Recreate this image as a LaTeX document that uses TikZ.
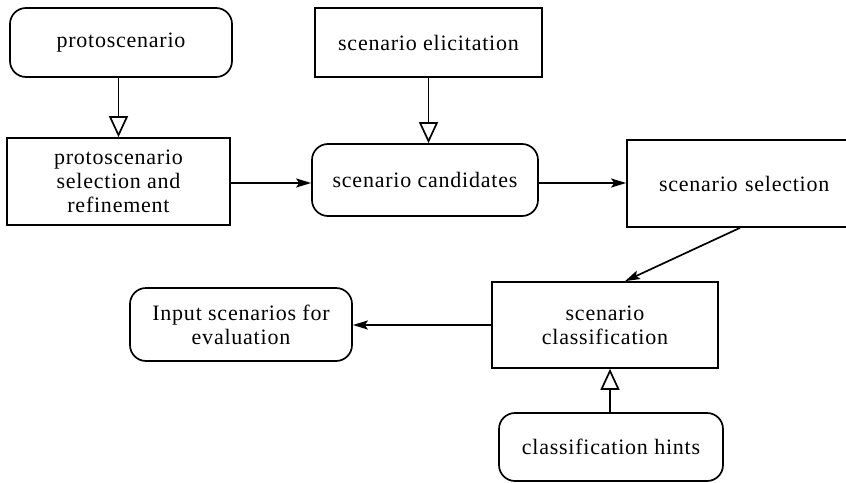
\documentclass[tikz,border=0pt]{standalone}
\usepackage{fontspec}
\setmainfont{Liberation Serif}[LetterSpace=3.5]
\usetikzlibrary{arrows.meta,calc}

\tikzset{
  box/.style={draw=black, line width=1.7pt, align=center, inner sep=0pt,
    font=\fontsize{22}{24}\selectfont},
  roundbox/.style={box, rounded corners=16pt},
  plainbox/.style={box},
  openflow/.style={line width=1.7pt, -{Triangle[open, length=21pt, width=19pt, line width=1.7pt]}},
  dataflow/.style={line width=1.7pt, -{Stealth[length=15pt, width=9pt, inset=3pt]}},
}

\begin{document}
\begin{tikzpicture}[x=1pt, y=-1pt]
  \useasboundingbox (0,0) rectangle (846,482);

  % top row
  \node[roundbox, minimum width=222pt, minimum height=69pt] (proto) at (121,42.5) {protoscenario};
  \node[plainbox, minimum width=227pt, minimum height=69pt] (elicit) at (428.5,42.5) {scenario elicitation};

  % middle row
  \node[plainbox, minimum width=223pt, minimum height=87pt] (protosel) at (118.5,181.5)
    {protoscenario\\selection and\\refinement};
  \node[roundbox, minimum width=226pt, minimum height=72pt] (cand) at (425,180) {scenario candidates};
  \node[plainbox, minimum width=230pt, minimum height=87pt, text width=200pt, align=left] (sel) at (742,183.5)
    {\hspace*{17pt}scenario selection};

  % lower rows
  \node[plainbox, minimum width=226pt, minimum height=86pt] (classif) at (605,325)
    {scenario\\classification};
  \node[roundbox, minimum width=222pt, minimum height=73pt] (input) at (241,324.5)
    {Input scenarios for\\evaluation};
  \node[roundbox, minimum width=224pt, minimum height=68pt] (hints) at (611,447) {classification hints};

  % connectors
  \draw[openflow] (proto.south -| protosel.north) -- (protosel.north);
  \draw[openflow] (elicit.south) -- (elicit.south |- cand.north);
  \draw[dataflow] (protosel.east |- 0,183) -- (cand.west |- 0,183);
  \draw[dataflow] (cand.east |- 0,183) -- (sel.west |- 0,183);
  \draw[dataflow] ($(sel.south)+(-2pt,0)$) -- ($(classif.north)+(20pt,0)$);
  \draw[dataflow] (classif.west) -- (input.east |- classif.west);
  \draw[openflow] (hints.north -| 610,0) -- (classif.south -| 610,0);
\end{tikzpicture}
\end{document}
